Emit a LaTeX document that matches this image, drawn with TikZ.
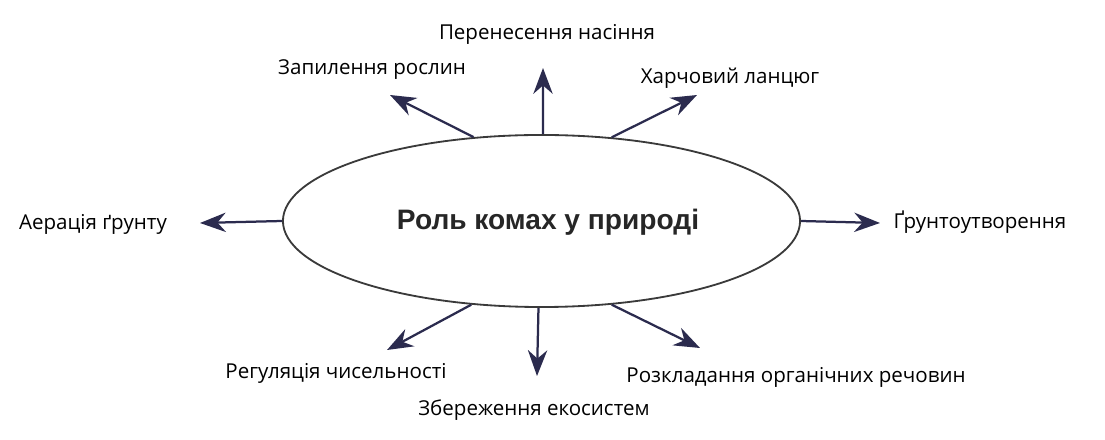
\documentclass[tikz,border=0pt]{standalone}
\usepackage{fontspec}
\setmainfont{Open Sans}
\newfontfamily\titlefont{Liberation Sans}
\usepackage{tikz}
\usetikzlibrary{arrows.meta, shapes.geometric}
\definecolor{arrc}{HTML}{2B2B4E}
\definecolor{ellc}{HTML}{3A3A3A}

\begin{document}
\begin{tikzpicture}[x=0.025cm, y=0.025cm,
          lbl/.style={font=\fontsize{14.6}{17}\selectfont, inner sep=0pt},
          ray/.style={-{Stealth[scale=1.8]}, arrc, line width=1.6pt}]
        \useasboundingbox (0,0) rectangle (1105,440);
        % centre
        \node[ellipse, draw=ellc, line width=1.3pt, minimum width=12.925cm,
              minimum height=4.3cm, inner sep=0pt] (role) at (541.5,219) {};
        \node[font=\titlefont\bfseries\fontsize{20}{22}\selectfont, black!85] (title)
              at (548,218) {Роль комах у природі};
        % labels
        \node[lbl] (seeds) at (547,406) {Перенесення насіння};
        \node[lbl] (pollin) at (372,370) {Запилення рослин};
        \node[lbl] (food) at (730,362) {Харчовий ланцюг};
        \node[lbl] (aer) at (93,216) {Аерація ґрунту};
        \node[lbl] (soil) at (980,218) {Ґрунтоутворення};
        \node[lbl] (regul) at (336,67) {Регуляція чисельності};
        \node[lbl] (eco) at (534,30) {Збереження екосистем};
        \node[lbl] (decomp) at (796,63) {Розкладання органічних речовин};
        % arrow tips
        \coordinate (tseeds) at (543,372);
        \coordinate (tpollin) at (390,345);
        \coordinate (tfood) at (697,345);
        \coordinate (taer) at (200,217);
        \coordinate (tsoil) at (880,217);
        \coordinate (tregul) at (387,90);
        \coordinate (teco) at (537,64);
        \coordinate (tdecomp) at (700,92);
        % arrows
        \draw[ray] (role.89) -- (tseeds);
        \draw[ray] (role.129.5) -- (tpollin);
        \draw[ray] (role.50) -- (tfood);
        \draw[ray] (role.west) -- (taer);
        \draw[ray] (role.east) -- (tsoil);
        \draw[ray] (role.230) -- (tregul);
        \draw[ray] (role.268) -- (teco);
        \draw[ray] (role.310) -- (tdecomp);
      \end{tikzpicture}
\end{document}
